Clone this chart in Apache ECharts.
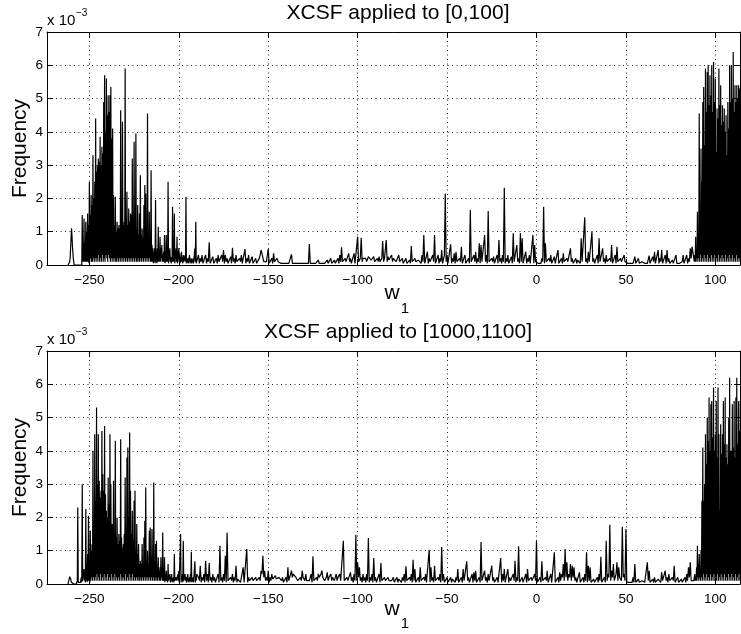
<!DOCTYPE html>
<html>
<head>
<meta charset="utf-8">
<script src="https://cdn.jsdelivr.net/npm/echarts@6/dist/echarts.min.js"></script>
<style>
html,body{margin:0;padding:0;background:#fff;}
#chart{width:741px;height:634px;}
</style>
</head>
<body>
<div id="chart"></div>
<script>
// ---------------- DATA (frequency values in units of 1e-3) ----------------
const xTicks = [-250, -200, -150, -100, -50, 0, 50, 100];
const yTicks = [0, 1, 2, 3, 4, 5, 6, 7];
const xMin = -273.7, xMax = 113.8;

// histogram bins: left cluster (start -262, step 0.25), middle (start -189, step 0.5), right cluster (start 88, step 0.25)
const leftStart = -262, leftStep = 0.25;
const midStart = -189, midStep = 0.5;
const rightStart = 88, rightStep = 0.25;

const titles = ['XCSF applied to [0,100]', 'XCSF applied to [1000,1100]'];

// ---- plot 1: XCSF applied to [0,100] ----
const topLeft = [
  0,0, 0,0, 0.1,0.2, 0.5,0.8, 1.1,0.9, 0.6,0.4, 0.2,0.1, 0,0, 0,0, 0,0,
  0,0, 0,0, 0,0, 0,0, 0,0, 0.05,0, 1.5,0.1, 0.6,0.1, 1.4,0.1, 0.7,0.1,
  1.3,0.1, 1.0,0.1, 1.55,0.1, 1.2,0.05, 2.5,0.1, 1.5,0.2, 2.1,0.1, 1.8,0.1, 3.3,0.2, 2.0,0.1,
  2.5,0.2, 4.4,0.1, 2.8,0.2, 3.0,0.1, 3.2,0.3, 3.1,0.1, 3.85,0.2, 3.0,0.1, 3.55,0.3, 3.35,0.1,
  4.9,0.2, 5.7,0.1, 4.0,0.3, 5.6,0.2, 4.5,0.1, 5.1,0.3, 4.6,0.2, 5.1,0.1, 5.35,0.2, 3.8,0.1,
  4.1,0.2, 2.1,0.1, 1.2,0.2, 2.05,0.1, 1.0,0.1, 1.3,0.2, 1.1,0.1, 1.2,0.2, 1.1,0.1, 4.65,0.2,
  1.1,0.1, 4.3,0.2, 1.2,0.1, 1.3,0.2, 5.9,0.1, 1.0,0.2, 2.2,0.1, 1.2,0.2, 1.7,0.1, 1.3,0.2,
  1.55,0.1, 1.5,0.2, 3.2,0.1, 1.2,0.2, 3.7,0.1, 1.3,0.2, 3.95,0.1, 1.1,0.1, 1.8,0.2, 0.9,0.1,
  1.55,0.1, 2.7,0.2, 0.9,0.1, 1.1,0.2, 0.8,0.1, 1.8,0.2, 2.4,0.1, 2.15,0.2, 0.9,0.1, 4.55,0.2,
  0.8,0.1, 1.6,0.2, 0.7,0.1, 2.85,0.1, 0.6,0.1, 0.5,0.05, 0.4,0.1, 0.5,0.05, 1.95,0.1, 0.4,0.05,
  0.5,0.1, 1.15,0.1, 0.4,0.1, 0.85,0.1, 0.5,0.2, 0.6,0.1, 0.3,0.1, 0.4,0.1, 0.9,0.05, 0.3,0.1,
  0.9,0.1, 0.2,0.1, 2.5,0.05, 0.1,0.1, 0.5,0.1, 0.25,0.05, 0.2,0.1, 1.75,0.1, 0.2,0.1, 1.55,0.05,
  0.1,0.1, 0.5,0.1, 0.85,0.05, 0.1,0.1, 0.5,0.1, 0.35,0.05, 0.2,0.1, 0.4,0.1, 0.2,0.05, 0.3,0.1,
  0.1,0.05, 0.3,0.1, 2.05,0.05, 0.1,0.1, 0.2,0.05, 0.1,0.1, 0.3,0.05, 0.1,0.1, 0.2,0.05, 0,0.1,
  0.2,0.05, 0.1,0.1, 0.5,0.1, 1.3,0.05, 0.1
];
const topMid = [
  0.3,0.05, 0.2,0.1, 0.3,0.05, 0.1,0.1, 0.3,0.05, 0.2,0.1, 0.68,0.05, 0.1,0.1, 0.25,0.05, 0.1,0.1,
  0.2,0.05, 0.3,0.1, 0.1,0.05, 0.3,0.1, 0.45,0.05, 0.3,0.1, 0.2,0.05, 0.1,0.1, 0.25,0.05, 0.52,0.1,
  0.2,0.05, 0.3,0.1, 0.1,0.05, 0.2,0.1, 0.3,0.05, 0.1,0.1, 0.48,0.05, 0.2,0.1, 0.3,0.05, 0.1,0.1,
  0.25,0.05, 0.1,0.1, 0.2,0.05, 0.1,0.1, 0.2,0.3, 0.45,0.35, 0.3,0.1, 0.05,0.05, 0.1,0.1, 0.48,0.05,
  0.1,0.1, 0.2,0.05, 0.35,0.1, 0.1,0.05, 0.2,0.1, 0.1,0.05, 0.05,0.05, 0.1,0.05, 0.05,0.05, 0.05,0.05,
  0.1,0.05, 0.05,0.05, 0.32,0.05, 0.05,0.05, 0.05,0, 0,0.05, 0.05,0.05, 0.05,0.05, 0.1,0.05, 0.05,0.05,
  0.05,0.05, 0.1,0.05, 0.63,0.05, 0.05,0.05, 0.05,0.05, 0.1,0.05, 0.05,0.1, 0.15,0.05, 0.1,0.05, 0.05,0.05,
  0.1,0.05, 0.05,0.1, 0.15,0.05, 0.1,0.1, 0.2,0.05, 0.1,0.1, 0.15,0.05, 0.1,0.1, 0.2,0.05, 0.3,0.1,
  0.53,0.1, 0.1,0.05, 0.2,0.1, 0.1,0.05, 0.35,0.1, 0.2,0.05, 0.1,0.1, 0.35,0.05, 0.1,0.1, 0.85,0.1,
  0.1,0.2, 0.82,0.1, 0.2,0.15, 0.25,0.2, 0.1,0.15, 0.25,0.2, 0.2,0.15, 0.15,0.2, 0.25,0.1, 0.1,0.15,
  0.2,0.1, 0.25,0.1, 0.1,0.2, 0.72,0.1, 0.2,0.15, 0.75,0.1, 0.25,0.15, 0.1,0.2, 0.3,0.1, 0.2,0.15,
  0.25,0.1, 0.1,0.15, 0.3,0.1, 0.15,0.1, 0.2,0.05, 0.1,0.1, 0.2,0.05, 0.1,0.1, 0.15,0.05, 0.57,0.1,
  0.1,0.05, 0.2,0.1, 0.05,0.05, 0.15,0.1, 0.1,0.05, 0.3,0.1, 0.9,0.05, 0.1,0.1, 0.4,0.05, 0.2,0.1,
  0.1,0.05, 0.3,0.1, 0.9,0.05, 0.1,0.1, 0.3,0.05, 0.2,0.1, 0.45,0.05, 0.1,0.3, 2.15,0.1, 0.3,0.05,
  0.1,0.1, 0.62,0.05, 0.2,0.1, 0.35,0.05, 0.4,0.1, 0.1,0.05, 0.2,0.1, 0.55,0.05, 0.1,0.1, 0.3,0.05,
  0.1,0.1, 0.2,0.05, 1.65,0.1, 0.1,0.05, 0.3,0.1, 0.4,0.05, 0.2,0.1, 0.65,0.05, 0.6,0.1, 0.1,0.05,
  0.9,0.1, 0.3,0.05, 1.62,0.1, 0.1,0.05, 0.2,0.1, 0.25,0.05, 0.1,0.1, 0.3,0.05, 0.75,0.1, 0.2,0.05,
  0.3,0.1, 2.32,0.05, 0.2,0.1, 0.3,0.05, 0.1,0.1, 0.25,0.05, 0.95,0.1, 0.1,0.05, 0.6,0.1, 0.2,0.05,
  0.95,0.1, 0.8,0.05, 0.1,0.1, 0.4,0.05, 0.2,0.1, 0.3,0.05, 0.1,0.1, 0.9,0.05, 0.6,0.1, 0.1,0.05,
  0.05,0.05, 0.1,0.05, 0.2,0.1, 1.75,0.05, 0.65,0.1, 0.1,0.05, 0.2,0.1, 0.3,0.05, 0.1,0.1, 0.25,0.05,
  0.1,0.1, 0.45,0.05, 0.1,0.1, 0.2,0.05, 0.35,0.1, 0.1,0.05, 0.2,0.1, 0.1,0.05, 0.5,0.1, 0.2,0.05,
  0.1,0.1, 0.2,0.05, 0.15,0.1, 0.2,0.05, 0.8,0.1, 0.1,0.05, 1.43,0.1, 0.2,0.05, 0.4,0.1, 0.1,0.05,
  1.0,0.1, 0.2,0.05, 0.1,0.1, 0.3,0.05, 0.8,0.1, 0.1,0.05, 0.5,0.1, 0.2,0.05, 0.3,0.1, 0.1,0.05,
  0.2,0.1, 0.6,0.05, 0.1,0.1, 0.3,0.05, 0.55,0.1, 0.1,0.05, 0.2,0.1, 0.1,0.05, 0.3,0.1, 0.1,0.05,
  0.05,0.05, 0.05,0.05, 0.1,0.05, 0.05,0.05, 0.25,0.05, 0.1,0.05, 0.2,0.05, 0.05,0.05, 0.1,0.05, 0.05,0.05,
  0.1,0.05, 0.05,0.05, 0.28,0.05, 0.1,0.05, 0.25,0.1, 0.4,0.05, 0.1,0.1, 0.45,0.05, 0.2,0.1, 0.45,0.05,
  0.1,0.1, 0.3,0.05, 0.45,0.1, 0.2,0.05, 0.1,0.1, 0.15,0.05, 0.1,0.1, 0.3,0.05, 0.1,0.05, 0.05,0.05,
  0.1,0.1, 0.3,0.05, 0.1,0.1, 0.3,0.05, 0.2,0.1, 0.5,0.2, 0.55
];
const topRight = [
  0.2,0.1, 0.3,0.1, 0.85,0.1, 0.5,0.2, 1.6,0.1, 0.9,0.2, 4.55,0.1, 1.6,0.3, 3.5,0.1, 2.5,0.2,
  4.9,0.1, 5.35,0.3, 3.6,0.1, 5.9,0.2, 4.6,0.1, 5.8,0.3, 6.0,0.1, 4.8,0.2, 5.7,0.1, 5.1,0.3,
  6.0,0.1, 4.6,0.2, 6.1,0.1, 4.9,0.3, 5.6,0.1, 3.4,0.2, 4.7,0.1, 4.4,0.3, 5.9,0.1, 4.8,0.2,
  5.4,0.1, 4.2,0.3, 4.8,0.1, 4.3,0.2, 4.7,0.1, 4.0,0.3, 4.5,0.1, 3.3,0.2, 4.9,0.1, 4.1,0.3,
  6.0,0.1, 4.9,0.2, 6.0,0.1, 5.0,0.3, 6.4,0.1, 4.6,0.2, 5.4,0.1, 4.9,0.3, 5.4,0.1, 5.0,0.2,
  5.4,0.1, 5.3,0.2, 1.3
];

// ---- plot 2: XCSF applied to [1000,1100] ----
const botLeft = [
  0,0, 0.1,0.15, 0.22,0.2, 0.15,0.1, 0.05,0, 0,0, 0,0, 0,0, 0,0, 0,0,
  0.05,0.1, 2.3,0.05, 0.1,0, 0,0, 0.05,0.1, 0.2,0.05, 3.0,0.1, 0.1,0.05, 0.45,0.1, 0.2,0.05,
  2.25,0.1, 0.6,0.05, 0.9,0.1, 2.05,0.1, 0.8,0.05, 1.6,0.1, 1.0,0.2, 1.2,0.1, 4.0,0.2, 1.5,0.1,
  4.5,0.2, 2.5,0.1, 5.3,0.3, 3.0,0.1, 4.5,0.2, 3.1,0.1, 2.6,0.3, 2.8,0.1, 4.6,0.2, 3.3,0.1,
  2.8,0.3, 4.75,0.1, 2.7,0.2, 2.2,0.1, 2.0,0.3, 3.2,0.1, 2.4,0.2, 4.5,0.1, 3.0,0.3, 1.8,0.1,
  1.8,0.2, 3.1,0.1, 1.5,0.3, 4.3,0.1, 1.4,0.2, 2.0,0.1, 1.2,0.2, 1.5,0.1, 1.3,0.3, 4.35,0.1,
  1.4,0.2, 1.1,0.1, 1.2,0.2, 1.5,0.1, 3.2,0.3, 1.6,0.1, 3.8,0.2, 4.1,0.1, 2.0,0.3, 4.55,0.1,
  2.8,0.2, 1.5,0.1, 2.2,0.3, 1.3,0.1, 2.5,0.2, 2.8,0.1, 1.0,0.2, 1.8,0.1, 0.9,0.2, 1.2,0.1,
  0.6,0.1, 0.7,0.2, 0.6,0.1, 1.2,0.2, 0.6,0.1, 1.4,0.2, 1.9,0.1, 2.9,0.2, 0.7,0.1, 1.0,0.2,
  0.6,0.1, 1.6,0.2, 1.7,0.1, 0.8,0.2, 1.65,0.1, 0.7,0.2, 3.05,0.1, 0.6,0.1, 1.2,0.2, 1.3,0.1,
  0.5,0.1, 0.8,0.2, 0.4,0.1, 0.5,0.1, 0.8,0.2, 0.4,0.1, 1.55,0.1, 0.4,0.1, 0.8,0.05, 0.3,0.1,
  0.4,0.1, 0.2,0.05, 0.6,0.1, 0.1,0.1, 0.3,0.05, 0.2,0.1, 0.3,0.05, 0.1,0.1, 0.2,0.05, 0.9,0.1,
  0.1,0.05, 0.2,0.1, 0.15,0.05, 0.3,0.1, 0.4,0.05, 0.1,0.1, 1.5,0.05, 0.2,0.1, 0.3,0.05, 1.3,0.1,
  0.1,0.05, 0.3,0.1, 0.2,0.05, 0.15,0.1, 0.3,0.05, 0.1,0.1, 0.2,0.05, 0.3,0.1, 0.97,0.05, 0.1,0.1,
  0.2,0.05, 0.1,0.1, 0.68,0.05, 0.2,0.1, 0.3
];
const botMid = [
  0.2,0.1, 0.55,0.05, 0.2,0.1, 0.3,0.05, 0.7,0.1, 0.3,0.05, 0.63,0.1, 0.2,0.05, 0.3,0.1, 0.2,0.05,
  0.1,0.1, 0.3,0.05, 1.15,0.1, 0.2,0.05, 0.3,0.1, 0.85,0.05, 1.55,0.1, 0.1,0.05, 0.2,0.1, 0.3,0.05,
  0.2,0.1, 0.55,0.05, 0.15,0.1, 0.2,0.05, 0.1,0.1, 0.5,0.05, 0.1,0.1, 1.05,0.05, 0.2,0.1, 0.1,0.05,
  0.2,0.1, 0.15,0.05, 0.2,0.1, 0.1,0.05, 0.2,0.1, 0.4,0.3, 0.85,0.2, 0.4,0.1, 0.2,0.1, 0.4,0.05,
  0.2,0.1, 0.3,0.15, 0.2,0.1, 0.25,0.15, 0.1,0.1, 0.2,0.15, 0.15,0.1, 0.2,0.05, 0.1,0.1, 0.2,0.05,
  0.5,0.1, 0.2,0.15, 0.4,0.2, 0.3,0.35, 0.3,0.2, 0.2,0.1, 0.1,0.05, 0.2,0.1, 0.4,0.2, 0.2,0.1,
  0.3,0.1, 0.15,0.05, 0.1,0.1, 0.3,0.05, 0.83,0.1, 0.1,0.05, 0.2,0.1, 0.3,0.2, 0.2,0.3, 0.4,0.2,
  0.25,0.1, 0.1,0.2, 0.35,0.1, 0.2,0.2, 0.3,0.1, 0.2,0.15, 0.1,0.2, 0.3,0.1, 0.2,0.15, 0.3,0.1,
  0.1,0.05, 1.3,0.1, 0.1,0.05, 0.2,0.1, 0.1,0.05, 0.35,0.1, 0.2,0.05, 0.3,0.1, 1.48,0.1, 0.65,0.2,
  0.5,0.1, 0.2,0.05, 0.3,0.1, 0.2,0.05, 0.3,0.1, 1.38,0.05, 0.2,0.1, 0.3,0.05, 0.78,0.1, 0.2,0.05,
  0.1,0.1, 0.3,0.05, 0.63,0.1, 0.1,0.05, 0.2,0.1, 0.1,0.05, 0.2,0.1, 0.15,0.05, 0.1,0.1, 0.2,0.05,
  0.1,0.1, 0.2,0.05, 0.15,0.1, 0.1,0.05, 0.2,0.1, 0.3,0.05, 0.53,0.1, 0.1,0.05, 0.2,0.1, 0.3,0.05,
  0.73,0.1, 0.45,0.05, 0.1,0.1, 0.2,0.05, 0.5,0.1, 0.1,0.05, 0.2,0.1, 0.3,0.05, 0.1,0.1, 1.03,0.05,
  0.5,0.1, 0.2,0.05, 0.55,0.1, 0.1,0.05, 0.2,0.1, 0.3,0.05, 1.11,0.1, 0.3,0.05, 0.1,0.1, 0.2,0.05,
  0.1,0.1, 0.2,0.05, 0.15,0.1, 0.1,0.05, 0.2,0.1, 0.45,0.05, 0.1,0.1, 0.2,0.05, 0.45,0.1, 0.1,0.05,
  0.68,0.1, 0.2,0.05, 0.1,0.1, 0.3,0.05, 0.35,0.1, 0.4,0.05, 0.1,0.1, 0.2,0.05, 1.26,0.1, 0.1,0.05,
  0.4,0.1, 0.2,0.05, 0.3,0.1, 0.1,0.05, 0.55,0.1, 0.2,0.05, 0.1,0.1, 0.2,0.05, 0.1,0.1, 0.78,0.05,
  0.3,0.1, 0.45,0.05, 0.1,0.1, 0.45,0.05, 0.2,0.1, 0.1,0.05, 0.3,0.1, 0.7,0.05, 0.2,0.1, 1.13,0.05,
  0.1,0.1, 0.2,0.05, 0.1,0.1, 0.3,0.05, 0.45,0.1, 0.1,0.05, 0.2,0.1, 0.1,0.05, 0.3,0.1, 1.3,0.05,
  0.1,0.1, 0.2,0.05, 0.68,0.1, 0.1,0.05, 0.2,0.1, 0.4,0.05, 0.1,0.1, 0.3,0.05, 0.1,0.1, 0.95,0.05,
  0.1,0.1, 0.2,0.05, 0.35,0.1, 0.3,0.2, 0.6,0.1, 1.05,0.2, 0.65,0.1, 0.3,0.2, 0.6,0.1, 0.55,0.2,
  0.5,0.1, 0.2,0.05, 0.1,0.1, 0.35,0.05, 0.1,0.1, 0.2,0.05, 0.3,0.1, 0.95,0.05, 0.55,0.1, 0.5,0.05,
  0.1,0.1, 0.15,0.05, 0.1,0.1, 0.2,0.05, 0.3,0.1, 0.82,0.05, 0.1,0.1, 0.2,0.05, 1.3,0.1, 0.3,0.2,
  1.78,0.1, 0.4,0.2, 0.6,0.1, 0.2,0.3, 0.65,0.1, 0.5,0.2, 0.2,0.1, 1.72,0.2, 0.3,0.1, 1.65,0.05,
  0.1,0.05, 0.05,0.05, 0.1,0.05, 0.2,0.05, 0.6,0.05, 0.1,0.05, 0.15,0.05, 0.05,0.05, 0.1,0.05, 0.05,0.05,
  0.1,0.05, 0.65,0.1, 0.4,0.05, 0.1,0.05, 0.15,0.05, 0.2,0.05, 0.1,0.05, 0.15,0.1, 0.2,0.05, 0.35,0.1,
  0.1,0.05, 0.4,0.1, 0.2,0.05, 0.3,0.1, 0.1,0.05, 0.2,0.1, 0.55,0.05, 0.1,0.1, 0.2,0.05, 0.1,0.05,
  0.15,0.05, 0.1,0.1, 0.2,0.05, 0.3,0.1, 0.5,0.2, 0.65,0.1, 0.1
];
const botRight = [
  0.1,0.05, 0.3,0.1, 0.2,0.1, 0.5,0.1, 1.15,0.2, 0.6,0.1, 0.9,0.2, 0.4,0.1, 1.0,0.2, 2.5,0.1,
  4.1,0.3, 2.5,0.1, 3.0,0.2, 4.5,0.1, 3.6,0.3, 5.0,0.1, 4.3,0.2, 5.6,0.1, 4.0,0.3, 5.4,0.1,
  5.5,0.2, 4.4,0.1, 5.9,0.3, 4.0,0.1, 4.5,0.2, 5.5,0.1, 3.8,0.3, 5.9,0.1, 4.5,0.2, 2.2,0.1,
  4.8,0.3, 3.9,0.1, 4.5,0.2, 5.5,0.1, 4.2,0.3, 5.6,0.1, 3.8,0.2, 4.2,0.1, 3.6,0.3, 5.0,0.1,
  6.2,0.2, 4.0,0.1, 4.0,0.3, 5.4,0.1, 4.1,0.2, 5.5,0.1, 3.8,0.3, 5.6,0.1, 6.2,0.2, 4.2,0.1,
  5.5,0.3, 4.6,0.1, 5.5
];

// ---------------- build series points from bins ----------------
function seg(start, step, vals) {
  return vals.map((v, i) => [start + i * step, v]);
}
function build(l, m, r) {
  return seg(leftStart, leftStep, l).concat(seg(midStart, midStep, m), seg(rightStart, rightStep, r));
}
const seriesTop = build(topLeft, topMid, topRight);
const seriesBot = build(botLeft, botMid, botRight);

// ---------------- chart ----------------
const FONT = '"Liberation Sans", Arial, Helvetica, sans-serif';
const chart = echarts.init(document.getElementById('chart'), null, { renderer: 'canvas' });

const grids = [
  { left: 47, top: 32, width: 693, height: 233 },
  { left: 47, top: 351, width: 693, height: 233 }
];
const dotted = { color: '#222', width: 1, type: [1, 3.5] };

const xAxes = [], yAxes = [];
grids.forEach((g, i) => {
  xAxes.push({
    gridIndex: i, type: 'value', position: 'bottom', min: xMin, max: xMax,
    axisLine: { show: true, onZero: false, lineStyle: { color: '#000', width: 1 } },
    axisTick: { show: true, inside: true, length: 6, customValues: xTicks, lineStyle: { color: '#000' } },
    axisLabel: {
      show: true, customValues: xTicks, margin: 8, color: '#000', fontSize: 13.5, fontFamily: FONT,
      formatter: v => String(v).replace('-', '\u2212')
    },
    splitLine: { show: true, lineStyle: dotted }
  });
  xAxes.push({
    gridIndex: i, type: 'value', position: 'top', min: xMin, max: xMax,
    axisLine: { show: true, onZero: false, lineStyle: { color: '#000', width: 1 } },
    axisTick: { show: true, inside: true, length: 6, customValues: xTicks, lineStyle: { color: '#000' } },
    axisLabel: { show: false },
    splitLine: { show: false }
  });
  yAxes.push({
    gridIndex: i, type: 'value', position: 'left', min: 0, max: 7, interval: 1,
    axisLine: { show: true, onZero: false, lineStyle: { color: '#000', width: 1 } },
    axisTick: { show: true, inside: true, length: 6, lineStyle: { color: '#000' } },
    axisLabel: { show: true, margin: 4, color: '#000', fontSize: 13.5, fontFamily: FONT },
    splitLine: { show: true, lineStyle: dotted }
  });
  yAxes.push({
    gridIndex: i, type: 'value', position: 'right', min: 0, max: 7, interval: 1,
    axisLine: { show: true, onZero: false, lineStyle: { color: '#000', width: 1 } },
    axisTick: { show: true, inside: true, length: 6, lineStyle: { color: '#000' } },
    axisLabel: { show: false },
    splitLine: { show: false }
  });
});

function txt(text, x, y, size, opts) {
  return Object.assign({
    type: 'text', x: x, y: y, silent: true,
    style: { text: text, fill: '#000', font: size + 'px ' + FONT, align: 'center', verticalAlign: 'middle' }
  }, opts || {});
}
const offs = [0, 319];
const graphics = [];
offs.forEach((dy, i) => {
  graphics.push(txt(titles[i], 398, 12.8 + dy, 21));
  const a = txt('x 10', 47, 20.7 + dy, 15); a.style.align = 'left'; graphics.push(a);
  const b = txt('\u22123', 76, 13.6 + dy, 10); b.style.align = 'left'; graphics.push(b);
  graphics.push(txt('Frequency', 20.2, 148.5 + dy, 21, { rotation: Math.PI / 2 }));
});
graphics.push(txt('w', 392, 293.5, 21));
graphics.push(txt('1', 405, 308.4, 15));
graphics.push(txt('w', 392, 609.5, 21));
graphics.push(txt('1', 405, 623.4, 15));

chart.setOption({
  animation: false,
  backgroundColor: '#fff',
  grid: grids,
  xAxis: xAxes,
  yAxis: yAxes,
  graphic: graphics,
  series: [
    { type: 'line', xAxisIndex: 0, yAxisIndex: 0, data: seriesTop, symbol: 'none', showSymbol: false,
      sampling: null, lineStyle: { color: '#000', width: 1.2 }, clip: true, z: 5 },
    { type: 'line', xAxisIndex: 2, yAxisIndex: 2, data: seriesBot, symbol: 'none', showSymbol: false,
      sampling: null, lineStyle: { color: '#000', width: 1.2 }, clip: true, z: 5 }
  ]
});
</script>
</body>
</html>
